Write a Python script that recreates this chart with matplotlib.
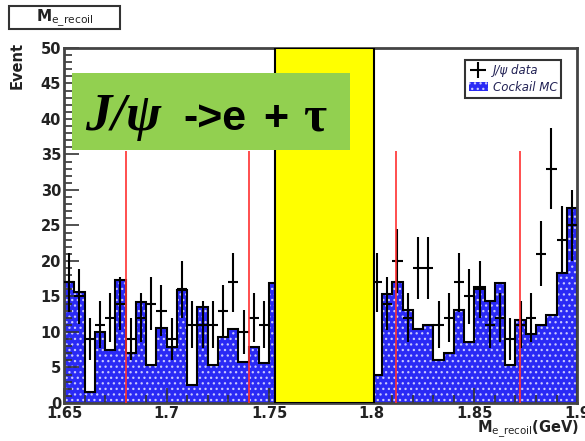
import numpy as np
import matplotlib as mpl
mpl.use('agg')
import matplotlib.pyplot as plt
from matplotlib.patches import Rectangle, Patch
from matplotlib.lines import Line2D

# 50 bins of 5 MeV from 1.65 to 1.90 GeV; bins under the yellow band are not visible
bin_lo = 1.65
bin_hi = 1.90
n_bins = 50

mc_counts = [17.0, 15.6, 1.5, 10.0, 7.4, 17.3, 7.0, 14.2, 5.3, 10.5,
             7.9, 15.9, 2.5, 13.5, 5.3, 9.3, 10.4, 5.8, 7.9, 5.6,
             16.9, 0, 0, 0, 0, 0, 0, 0, 0, 0,
             4.0, 15.4, 17.1, 13.1, 10.4, 11.0, 6.1, 7.0, 13.1, 8.6,
             16.4, 14.3, 16.9, 5.4, 11.7, 9.7, 11.0, 12.4, 18.3, 27.4]

data_counts = [17, 15, 9, 11, 12, 14, 9, 12, 14, 13,
               9, 16, 11, 11, 11, 13, 17, 10, 12, 11,
               None, None, None, None, None, None, None, None, None, None,
               17, 14, 20, 12, 19, 19, 11, 12, 17, 15,
               16, 11, 12, 9, 11, 12, 21, 33, 23, 25]

cut_lines = [1.680, 1.740, 1.812, 1.872]
cut_top = 35.5
signal_lo = 1.753
signal_hi = 1.801

edges = np.linspace(bin_lo, bin_hi, n_bins + 1)
centers = 0.5 * (edges[:-1] + edges[1:])
width = edges[1] - edges[0]
mc = np.array(mc_counts, dtype=float)
data = np.array([np.nan if v is None else v for v in data_counts], dtype=float)

plt.rcParams['hatch.linewidth'] = 0.9

fig = plt.figure(figsize=(5.85, 4.41), dpi=100)
ax = fig.add_axes([0.1094, 0.0862, 0.877, 0.805])

ax.bar(centers, mc, width=width, color='#2a2af5', edgecolor='#c8c8ff',
       linewidth=0, hatch='...', zorder=1)
ax.stairs(mc, edges, color='black', lw=1.5, zorder=2)
ax.errorbar(centers, data, yerr=np.sqrt(data), xerr=width / 2, fmt='none',
            ecolor='black', elinewidth=1.5, capsize=0, zorder=3)

ax.vlines(cut_lines, 0, cut_top, color='#ff3030', lw=1.2, zorder=4)
ax.axvspan(signal_lo, signal_hi, facecolor='#ffff00', edgecolor='black',
           lw=1.5, zorder=5)

ax.set_xlim(bin_lo, bin_hi)
ax.set_ylim(0, 50)
ax.set_xticks([1.65, 1.7, 1.75, 1.8, 1.85, 1.9])
ax.set_xticklabels(['1.65', '1.7', '1.75', '1.8', '1.85', '1.9'])
ax.set_xticks(np.arange(1.65, 1.9001, 0.01), minor=True)
ax.set_yticks(np.arange(0, 51, 5))
ax.set_yticks(np.arange(0, 51, 1), minor=True)
ax.tick_params(which='both', direction='in', top=False, right=False,
               color='#333333', width=1.2)
ax.tick_params(which='major', length=11, labelsize=10.5, pad=2)
ax.tick_params(which='minor', length=6)
for lab in ax.get_xticklabels() + ax.get_yticklabels():
    lab.set_fontweight('bold')
    lab.set_color('#222222')
for sp in ax.spines.values():
    sp.set_linewidth(2)
    sp.set_color('#444444')

handles = [Line2D([], [], color='black', marker='+', markersize=12, lw=0, mew=1.5),
           Patch(facecolor='#2a2af5', edgecolor='#c8c8ff', hatch='...', lw=0)]
leg = ax.legend(handles, ['J/\u03c8 data', 'Cockail MC'], loc='upper right',
                bbox_to_anchor=(0.981, 0.983), fancybox=False, framealpha=1,
                edgecolor='#333333', prop={'style': 'italic', 'size': 8.5},
                handlelength=1.6, borderpad=0.35, labelspacing=0.3, handletextpad=0.4)
leg.get_frame().set_linewidth(1.5)
for t in leg.get_texts():
    t.set_color('#222255')

fig.text(0.99, 0.002, r'M$_{\mathrm{e\_recoil}}$(GeV)', ha='right', va='bottom',
         fontsize=10.5, fontweight='bold', color='#222222')
fig.text(0.03, 0.905, 'Event', rotation=90, ha='center', va='top',
         fontsize=10.5, fontweight='bold', color='#222222')

# title box
fig.patches.append(Rectangle((0.015, 0.934), 0.19, 0.052, transform=fig.transFigure,
                             facecolor='white', edgecolor='#333333', lw=1.5))
fig.text(0.11, 0.958, r'M$_{\mathrm{e\_recoil}}$', ha='center', va='center',
         fontsize=11, fontweight='bold', color='#222222')

# green label
fig.patches.append(Rectangle((0.123, 0.660), 0.475, 0.175, transform=fig.transFigure,
                             facecolor='#92d050', edgecolor='none', zorder=10))
fig.text(0.146, 0.705, 'J/\u03c8', family='Liberation Serif', style='italic',
         fontweight='bold', fontsize=38, ha='left', va='baseline', zorder=11)
fig.text(0.313, 0.705, '->e', family='Liberation Sans', fontweight='bold',
         fontsize=31, ha='left', va='baseline', zorder=11)
fig.text(0.450, 0.705, '+', family='Liberation Sans', fontweight='bold',
         fontsize=31, ha='left', va='baseline', zorder=11)
fig.text(0.518, 0.705, '\u03c4', family='Liberation Serif', fontweight='bold',
         fontsize=36, ha='left', va='baseline', zorder=11)

fig.savefig('out.png')
